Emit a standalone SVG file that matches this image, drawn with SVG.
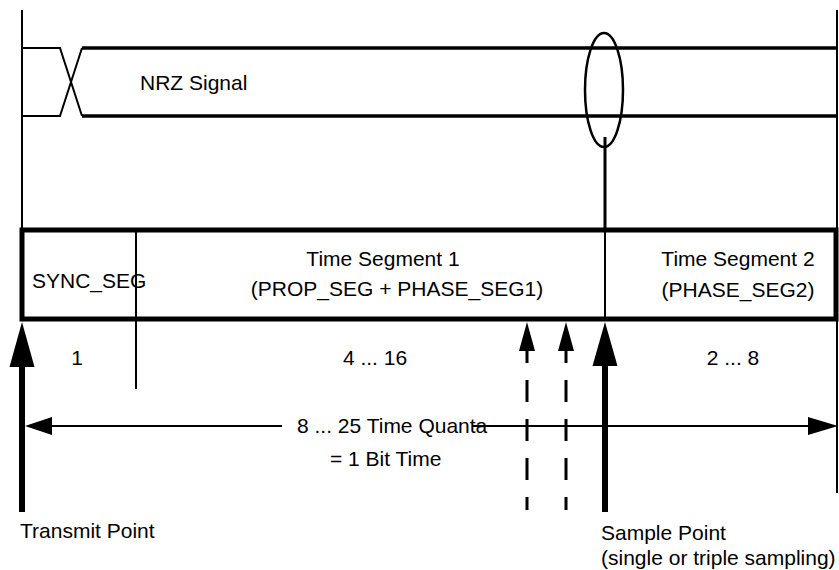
<svg xmlns="http://www.w3.org/2000/svg" width="839" height="570" viewBox="0 0 839 570">
<style>
text{font-family:"Liberation Sans",Arial,sans-serif;font-size:21px;fill:#000}
.thin{stroke:#000;stroke-width:2;fill:none}
.sig{stroke:#000;stroke-width:3.5;fill:none}
.dash{stroke:#000;stroke-width:3;stroke-dasharray:22 17;stroke-dashoffset:10;fill:none}
.head{fill:#000;stroke:none}
</style>
<rect width="839" height="570" fill="#fff"/>
<g id="frame">
<line class="thin" x1="22" y1="10" x2="22" y2="230"/>
<line class="thin" x1="837" y1="10" x2="837" y2="493"/>
</g>
<g id="nrz-signal">
<polyline class="thin" points="22,48 60,48 82,116"/>
<polyline class="thin" points="22,116 60,116 82,48"/>
<line class="sig" x1="82" y1="48" x2="838" y2="48"/>
<line class="sig" x1="82" y1="116" x2="838" y2="116"/>
<text x="140" y="90">NRZ Signal</text>
</g>
<g id="sample-ellipse">
<ellipse cx="604" cy="90" rx="19" ry="57" fill="none" stroke="#000" stroke-width="2.5"/>
<line x1="605" y1="137" x2="605" y2="230" stroke="#000" stroke-width="3"/>
</g>
<g id="bit-box">
<rect x="22" y="230" width="814" height="89" fill="none" stroke="#000" stroke-width="5"/>
<line class="thin" x1="136" y1="230" x2="136" y2="389"/>
<line class="thin" x1="605" y1="230" x2="605" y2="319"/>
<text x="32" y="288">SYNC_SEG</text>
<text x="383" y="266" text-anchor="middle">Time Segment 1</text>
<text x="397" y="296" text-anchor="middle">(PROP_SEG + PHASE_SEG1)</text>
<text x="738" y="266" text-anchor="middle">Time Segment 2</text>
<text x="738" y="297" text-anchor="middle">(PHASE_SEG2)</text>
</g>
<g id="counts">
<text x="77" y="365" text-anchor="middle">1</text>
<text x="375" y="365" text-anchor="middle">4 ... 16</text>
<text x="733" y="365" text-anchor="middle">2 ... 8</text>
</g>
<g id="connectors">
<polygon class="head" points="22,322 9.5,367 34.5,367"/>
<rect x="19" y="366" width="6" height="146" fill="#000"/>
<polygon class="head" points="605,322 592.5,366 617.5,366"/>
<rect x="602" y="365" width="6" height="147" fill="#000"/>
<polygon class="head" points="527,322 519,351 535,351"/>
<line class="dash" x1="527" y1="351" x2="527" y2="510"/>
<polygon class="head" points="566,322 558,351 574,351"/>
<line class="dash" x1="566" y1="351" x2="566" y2="510"/>
<line class="thin" x1="50" y1="426" x2="282" y2="426"/>
<polygon class="head" points="25,426 52,417 52,435"/>
<line class="thin" x1="473" y1="426" x2="810" y2="426"/>
<polygon class="head" points="838,426 808,417 808,435"/>
</g>
<g id="labels">
<text x="297" y="433">8 ... 25 Time Quanta</text>
<text x="330" y="466">= 1 Bit Time</text>
<text x="20" y="538">Transmit Point</text>
<text x="601" y="540">Sample Point</text>
<text x="601" y="565">(single or triple sampling)</text>
</g>
</svg>
